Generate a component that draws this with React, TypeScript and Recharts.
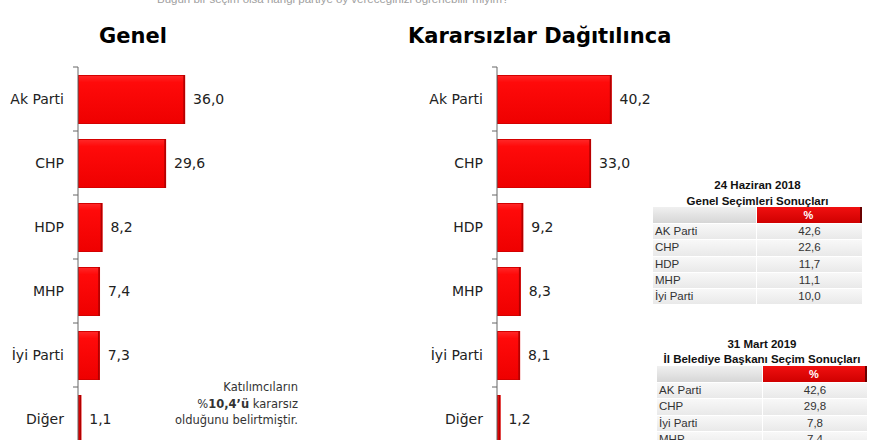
import { BarChart, Bar, XAxis, YAxis, LabelList } from "recharts";

const categories = ["Ak Parti", "CHP", "HDP", "MHP", "İyi Parti", "Diğer"];
const genelValues = [36.0, 29.6, 8.2, 7.4, 7.3, 1.1];
const dagitilincaValues = [40.2, 33.0, 9.2, 8.3, 8.1, 1.2];

const table2018Title = ["24 Haziran 2018", "Genel Seçimleri Sonuçları"];
const table2018Parties = ["AK Parti", "CHP", "HDP", "MHP", "İyi Parti"];
const table2018Values = ["42,6", "22,6", "11,7", "11,1", "10,0"];

const table2019Title = ["31 Mart 2019", "İl Belediye Başkanı Seçim Sonuçları"];
const table2019Parties = ["AK Parti", "CHP", "İyi Parti", "MHP"];
const table2019Values = ["42,6", "29,8", "7,8", "7,4"];

const questionText =
  "Bugün bir seçim olsa hangi partiye oy vereceğinizi öğrenebilir miyim?";
const noteLines = ["Katılımcıların", "kararsız", "olduğunu belirtmiştir."];

const genelData = categories.map((name, i) => ({ name, value: genelValues[i] }));
const dagitData = categories.map((name, i) => ({
  name,
  value: dagitilincaValues[i],
}));

const VERDANA = "Verdana, 'DejaVu Sans', sans-serif";
const CALIBRI = "'Liberation Sans', Arial, sans-serif";
const PLOT_H = 384;

const fmt = (v: any) => Number(v).toFixed(1).replace(".", ",");

// ticks sit between categories, like the Excel original
const CategoryTick = (props: any) => {
  const { x, y, payload } = props;
  const half =
    typeof payload?.offset === "number" && payload.offset > 0
      ? payload.offset
      : PLOT_H / categories.length / 2;
  return (
    <g>
      <line x1={x + 9} x2={x + 14} y1={y - half} y2={y - half} stroke="#666" />
      <text
        x={x}
        y={y}
        dy="0.35em"
        textAnchor="end"
        fill="#222"
        fontSize={14}
        fontFamily={VERDANA}
      >
        {payload.value}
      </text>
    </g>
  );
};

const RedBar = (props: any) => {
  const { x, y, width, height } = props;
  if (!width || width <= 0) return null;
  return (
    <g>
      <rect x={x} y={y} width={width} height={height} fill="url(#redFill)" />
      <rect
        x={x + 0.5}
        y={y + 0.5}
        width={Math.max(width - 1, 0)}
        height={height - 1}
        fill="none"
        stroke="#d40000"
      />
      <line
        x1={x + width - 1}
        x2={x + width - 1}
        y1={y}
        y2={y + height}
        stroke="#b00000"
        strokeWidth={1.5}
      />
    </g>
  );
};

const Gradients = () => (
  <defs>
    <linearGradient id="redFill" x1="0" y1="0" x2="0" y2="1">
      <stop offset="0%" stopColor="#ff2a2a" />
      <stop offset="15%" stopColor="#ff0a0a" />
      <stop offset="100%" stopColor="#ee0000" />
    </linearGradient>
  </defs>
);

const PartyChart = ({
  data,
  left,
  axisWidth,
  plotWidth,
}: {
  data: any[];
  left: number;
  axisWidth: number;
  plotWidth: number;
}) => (
  <div style={{ position: "absolute", left, top: 0 }}>
    <BarChart
      width={axisWidth + plotWidth}
      height={460}
      data={data}
      layout="vertical"
      margin={{ top: 67, right: 0, bottom: 9, left: 0 }}
    >
      <Gradients />
      <XAxis type="number" domain={[0, 80]} hide />
      <YAxis
        type="category"
        dataKey="name"
        width={axisWidth}
        axisLine={{ stroke: "#666" }}
        tickLine={false}
        tickSize={5}
        tickMargin={9}
        tick={<CategoryTick />}
        interval={0}
      />
      <Bar
        dataKey="value"
        barSize={49}
        shape={<RedBar />}
        isAnimationActive={false}
      >
        <LabelList
          dataKey="value"
          position="right"
          offset={8}
          formatter={fmt}
          fill="#222"
          fontSize={14}
          fontFamily={VERDANA}
        />
      </Bar>
    </BarChart>
  </div>
);

const ResultTable = ({
  left,
  width,
  split,
  titleY,
  headerTop,
  rowH,
  title,
  parties,
  values,
}: {
  left: number;
  width: number;
  split: number;
  titleY: number[];
  headerTop: number;
  rowH: number;
  title: string[];
  parties: string[];
  values: string[];
}) => (
  <>
    {title.map((t, i) => (
      <div
        key={t}
        style={{
          position: "absolute",
          left,
          width,
          top: titleY[i] - 8,
          height: 16,
          lineHeight: "16px",
          textAlign: "center",
          fontFamily: CALIBRI,
          fontSize: 11.5,
          fontWeight: "bold",
          color: "#111",
          whiteSpace: "nowrap",
        }}
      >
        {t}
      </div>
    ))}
    <div
      style={{
        position: "absolute",
        left,
        top: headerTop,
        width: split - 1,
        height: 16,
        background: "linear-gradient(#f0f0f0, #d6d6d6)",
      }}
    />
    <div
      style={{
        position: "absolute",
        left: left + split,
        top: headerTop,
        width: width - split - 2,
        height: 16,
        background: "linear-gradient(#f01010, #d00000)",
        borderRight: "2px solid #6a0000",
        color: "#fff",
        fontFamily: CALIBRI,
        fontWeight: "bold",
        fontSize: 11,
        lineHeight: "16px",
        textAlign: "center",
      }}
    >
      %
    </div>
    {parties.map((p, i) => (
      <div key={p}>
        <div
          style={{
            position: "absolute",
            left,
            top: headerTop + 17 + i * rowH,
            width: split - 1,
            height: rowH - 1,
            background: "linear-gradient(#f8f8f8, #e9e9e9)",
            fontFamily: CALIBRI,
            fontSize: 11.5,
            lineHeight: `${rowH - 1}px`,
            color: "#333",
            paddingLeft: 2,
            boxSizing: "border-box",
            whiteSpace: "nowrap",
          }}
        >
          {p}
        </div>
        <div
          style={{
            position: "absolute",
            left: left + split,
            top: headerTop + 17 + i * rowH,
            width: width - split,
            height: rowH - 1,
            background: "linear-gradient(#f8f8f8, #e9e9e9)",
            fontFamily: CALIBRI,
            fontSize: 11.5,
            lineHeight: `${rowH - 1}px`,
            color: "#333",
            textAlign: "center",
          }}
        >
          {values[i]}
        </div>
      </div>
    ))}
  </>
);

export default function App() {
  return (
    <div
      style={{
        position: "absolute",
        left: 0,
        top: 0,
        width: 880,
        height: 440,
        overflow: "hidden",
        background: "#fff",
      }}
    >
      <svg
        width={880}
        height={440}
        style={{ position: "absolute", left: 0, top: 0 }}
      >
        <text
          x={157}
          y={3}
          fill="#a0a0a0"
          fontSize={11.5}
          fontFamily={CALIBRI}
        >
          {questionText}
        </text>
        <text
          x={99}
          y={43}
          fill="#000"
          fontSize={21}
          fontWeight="bold"
          fontFamily={VERDANA}
        >
          Genel
        </text>
        <text
          x={408}
          y={43}
          fill="#000"
          fontSize={21}
          fontWeight="bold"
          fontFamily={VERDANA}
        >
          Kararsızlar Dağıtılınca
        </text>
        <g fontFamily={VERDANA} fontSize={11.5} fill="#333" textAnchor="end">
          <text x={298} y={391}>
            {noteLines[0]}
          </text>
          <text x={298} y={407.5}>
            <tspan>%</tspan>
            <tspan fontWeight="bold">10,4’ü</tspan>
            <tspan> {noteLines[1]}</tspan>
          </text>
          <text x={298} y={424}>
            {noteLines[2]}
          </text>
        </g>
      </svg>
      <PartyChart data={genelData} left={0} axisWidth={78} plotWidth={238} />
      <PartyChart data={dagitData} left={400} axisWidth={97} plotWidth={228} />
      <ResultTable
        left={653}
        width={209}
        split={104}
        titleY={[185, 201]}
        headerTop={207}
        rowH={16.3}
        title={table2018Title}
        parties={table2018Parties}
        values={table2018Values}
      />
      <ResultTable
        left={657}
        width={210}
        split={106}
        titleY={[344, 359]}
        headerTop={366}
        rowH={16.4}
        title={table2019Title}
        parties={table2019Parties}
        values={table2019Values}
      />
    </div>
  );
}
